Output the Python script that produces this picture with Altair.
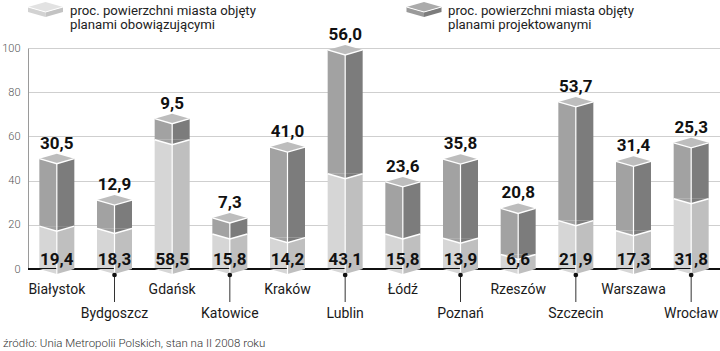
import altair as alt
import pandas as pd

# ---- data ----
cities = ["Białystok", "Bydgoszcz", "Gdańsk", "Katowice", "Kraków", "Lublin",
          "Łódź", "Poznań", "Rzeszów", "Szczecin", "Warszawa", "Wrocław"]
obowiazujace = [19.4, 18.3, 58.5, 15.8, 14.2, 43.1, 15.8, 13.9, 6.6, 21.9, 17.3, 31.8]
projektowane = [30.5, 12.9, 9.5, 7.3, 41.0, 56.0, 23.6, 35.8, 20.8, 53.7, 31.4, 25.3]
y_ticks = [0, 20, 40, 60, 80, 100]
legend_line1 = ["proc. powierzchni miasta objęty", "proc. powierzchni miasta objęty"]
legend_line2 = ["planami obowiązującymi", "planami projektowanymi"]
source_text = "źródło: Unia Metropolii Polskich, stan na II 2008 roku"


def fmt(v):
    return f"{v:.1f}".replace(".", ",")


df = pd.DataFrame({"city": cities, "low": obowiazujace, "high": projektowane})
df["total"] = df["low"] + df["high"]
df["zero"] = 0.0
df["low_lbl"] = [fmt(v) for v in df["low"]]
df["high_lbl"] = [fmt(v) for v in df["high"]]
df["row"] = [i % 2 for i in range(len(cities))]

face_rows = []
for c, lo, hi in zip(cities, obowiazujace, projektowane):
    for side in ["L", "R"]:
        face_rows.append({"city": c, "side": side, "key": "low_" + side, "y0": 0.0, "y1": lo})
        face_rows.append({"city": c, "side": side, "key": "high_" + side, "y0": lo, "y1": lo + hi})
faces = pd.DataFrame(face_rows)

# ---- styles ----
C_LOW_L, C_LOW_R = "#d6d6d6", "#bfbfbf"
C_HIGH_L, C_HIGH_R = "#a2a2a2", "#7c7c7c"
C_CAP = "#bdbdbd"
FONT = "Roboto"
SZ = 1225  # symbol unit = 17.5 px (half bar width)

TRI_L = "M -1 0 L 0 0 L 0 0.286 Z"
TRI_R = "M 0 0 L 1 0 L 0 0.286 Z"
DIAMOND = "M -1 0 L 0 0.286 L 1 0 L 0 -0.286 Z"
VLINE = "M -1 0 L 0 0.286 L 1 0"
FACE_L = "M -1 0 L 0 0.286 L 0 0.571 L -1 0.286 Z"
FACE_R = "M 0 0.286 L 1 0 L 1 0.286 L 0 0.571 Z"

xscale = alt.Scale(domain=cities, paddingInner=0.393, paddingOuter=0.1965)
X = alt.X("city:N", scale=xscale, axis=None, sort=cities)
yscale = alt.Scale(domain=[0, 100], nice=False)
yaxis = alt.Axis(values=y_ticks, grid=True, gridColor="#cfcfcf", gridWidth=1,
                 domain=True, domainColor="#9a9a9a", ticks=False, labelPadding=8,
                 labelFont=FONT, labelFontSize=11, labelFontWeight=300,
                 labelColor="#555", title=None)

base = alt.Chart(df)

zero_rule = base.mark_rule(color="#111", strokeWidth=1.5).encode(
    y=alt.datum(0, scale=yscale))

color = alt.Color("key:N", scale=alt.Scale(domain=["low_L", "low_R", "high_L", "high_R"],
                                            range=[C_LOW_L, C_LOW_R, C_HIGH_L, C_HIGH_R]),
                  legend=None)

faces_L = alt.Chart(faces).transform_filter("datum.side == 'L'").mark_bar(
    width=17.5, xOffset=-8.75).encode(
    x=X, y=alt.Y("y1:Q", scale=yscale, axis=yaxis), y2="y0:Q", color=color)
faces_R = alt.Chart(faces).transform_filter("datum.side == 'R'").mark_bar(
    width=17.5, xOffset=8.75).encode(
    x=X, y=alt.Y("y1:Q", scale=yscale), y2="y0:Q", color=color)


def shape(path, fill, field):
    return base.mark_point(shape=path, size=SZ, filled=True, fill=fill, opacity=1,
                           strokeWidth=0).encode(
        x=X, y=alt.Y(field + ":Q", scale=yscale))


def line_shape(path, field, width=1.3):
    return base.mark_point(shape=path, size=SZ, filled=False, stroke="white",
                           strokeWidth=width, opacity=1).encode(
        x=X, y=alt.Y(field + ":Q", scale=yscale))


bottom_L = shape(TRI_L, C_LOW_L, "zero")
bottom_R = shape(TRI_R, C_LOW_R, "zero")

mid_L = shape(TRI_L, C_HIGH_L, "low")
mid_R = shape(TRI_R, C_HIGH_R, "low")
mid_line = line_shape(VLINE, "low", 1.5)

center_line = base.mark_rule(color="white", strokeWidth=1.2, yOffset=5, y2Offset=5).encode(
    x=X, y=alt.Y("total:Q", scale=yscale), y2=alt.Y2(datum=0))

cap = shape(DIAMOND, C_CAP, "total")
cap_line = line_shape(VLINE, "total", 1.3)

low_text = base.mark_text(font=FONT, fontSize=17, fontWeight="bold", color="#111",
                          baseline="alphabetic", dy=-4).encode(
    x=X, y=alt.Y("zero:Q", scale=yscale), text="low_lbl:N")
high_text = base.mark_text(font=FONT, fontSize=17, fontWeight="bold", color="#111",
                           baseline="alphabetic", dy=-10).encode(
    x=X, y=alt.Y("total:Q", scale=yscale), text="high_lbl:N")

city_row0 = base.transform_filter("datum.row == 0").mark_text(
    font=FONT, fontSize=14, color="#1a1a1a", baseline="alphabetic").encode(
    x=X, y=alt.value(246), text="city:N")
city_row1 = base.transform_filter("datum.row == 1").mark_text(
    font=FONT, fontSize=14, color="#1a1a1a", baseline="alphabetic").encode(
    x=X, y=alt.value(270), text="city:N")
pin_line = base.transform_filter("datum.row == 1").mark_rule(
    color="#333", strokeWidth=1).encode(x=X, y=alt.value(227), y2=alt.value(254))
pin_dot = base.transform_filter("datum.row == 1").mark_circle(
    size=22, color="#111", opacity=1).encode(x=X, y=alt.value(227))

# ---- legend ----
leg_layers = []
leg_colors = [("#e2e2e2", "#d2d2d2", "#c3c3c3"), ("#ababab", "#9a9a9a", "#7c7c7c")]
leg_x = [17.5, 396]
leg_tx = [42, 420]
for i in range(2):
    ld = pd.DataFrame({"l1": [legend_line1[i]], "l2": [legend_line2[i]]})
    top_c, left_c, right_c = leg_colors[i]
    for path, col in [(FACE_L, left_c), (FACE_R, right_c), (DIAMOND, top_c)]:
        leg_layers.append(alt.Chart(ld).mark_point(
            shape=path, size=SZ, filled=True, fill=col, opacity=1, strokeWidth=0).encode(
            x=alt.value(leg_x[i]), y=alt.value(-41)))
    leg_layers.append(alt.Chart(ld).mark_point(
        shape=VLINE, size=SZ, filled=False, stroke="white", strokeWidth=1, opacity=1).encode(
        x=alt.value(leg_x[i]), y=alt.value(-41)))
    for field, yv in [("l1", -33), ("l2", -19)]:
        leg_layers.append(alt.Chart(ld).mark_text(
            font=FONT, fontSize=13.2, color="#222", align="left",
            baseline="alphabetic").encode(
            x=alt.value(leg_tx[i]), y=alt.value(yv), text=f"{field}:N"))

src = alt.Chart(pd.DataFrame({"t": [source_text]})).mark_text(
    font=FONT, fontSize=11.5, fontWeight=300, color="#333", align="left",
    baseline="alphabetic").encode(x=alt.value(-25), y=alt.value(299), text="t:N")

chart = alt.layer(
    faces_L, zero_rule, faces_R, bottom_L, bottom_R, mid_L, mid_R, mid_line,
    center_line, cap, cap_line, low_text, high_text,
    city_row0, city_row1, pin_line, pin_dot, *leg_layers, src
).properties(
    width=692, height=221,
    autosize=alt.AutoSizeParams(type="none"),
    padding={"left": 28, "top": 48, "right": 0, "bottom": 82},
    background="white",
).configure_view(stroke=None)

chart.save("out.html", embed_options={"renderer": "svg", "actions": False})
